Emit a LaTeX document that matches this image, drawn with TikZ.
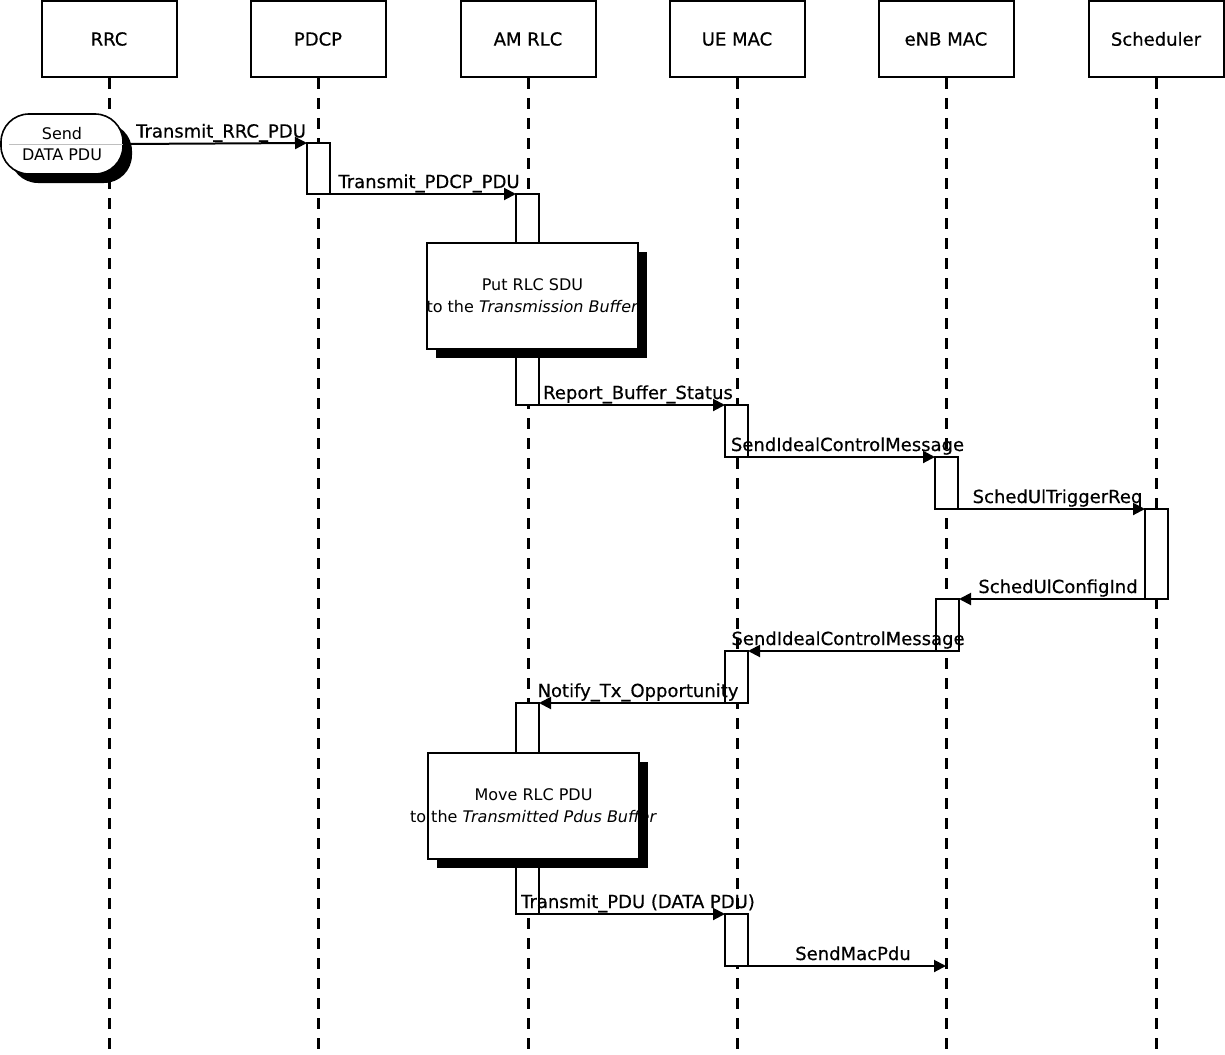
\documentclass[tikz,border=0pt]{standalone}
\usepackage{fontspec}
\setmainfont{DejaVu Sans}
\newfontfamily\lblfont{DejaVu Sans}[FakeBold=0.5]
\usetikzlibrary{arrows.meta,shadows}

\tikzset{
  head/.style={draw,line width=1pt,minimum width=67.5pt,minimum height=38pt,font=\lblfont\fontsize{9}{11}\selectfont},
  bar/.style={draw,fill=white,line width=1pt,anchor=north west,minimum width=11.5pt,inner sep=0pt,outer sep=0pt},
  blackshadow/.style={drop shadow={shadow xshift=4.5pt,shadow yshift=-4.5pt,fill=black,opacity=1}},
  note/.style={draw,fill=white,line width=0.8pt,anchor=north west,minimum width=105.5pt,minimum height=53pt,
    outer sep=0pt,inner xsep=0pt,align=center,font=\fontsize{8}{11}\selectfont,blackshadow},
  msg/.style={-{Triangle[length=6pt,width=6pt]},line width=1pt},
  lbl/.style={midway,anchor=base,yshift=3pt,xshift=3pt,font=\lblfont\fontsize{9}{11}\selectfont}
}

\begin{document}
\begin{tikzpicture}[x=0.5pt,y=-0.5pt]
\useasboundingbox (0,0) rectangle (1225,1054);

% lifelines
\foreach \x/\n/\t in {109/rrc/RRC,318/pdcp/PDCP,528/rlc/AM RLC,737/uemac/UE MAC,946/enbmac/eNB MAC,1156/sched/Scheduler}
{
	\node[head] (\n) at (\x,39) {\t};
	\draw[line width=1.5pt,dash pattern=on 5.5pt off 4.5pt] (\n.south) -- (\x,1054);
}

% start
\node[draw,fill=white,line width=0.8pt,rounded corners=14pt,minimum width=61pt,minimum height=30pt,
  outer sep=0pt,align=center,font=\fontsize{8}{10.5}\selectfont,blackshadow]
  (send) at (62,144) {Send\\DATA PDU};
\draw[black!25,line width=0.4pt] ([xshift=4pt]send.west) -- (send.east);

% activation bars
\node[bar,minimum height=25.5pt] (pdcp1) at (307,143) {};
\node[bar,minimum height=105.5pt] (rlc1) at (516,194) {};
\node[bar,minimum height=26pt] (ue1) at (725,405) {};
\node[bar,minimum height=26pt] (enb1) at (935,457) {};
\node[bar,minimum height=45pt] (sch1) at (1145,509) {};
\node[bar,minimum height=26pt] (enb2) at (936,599) {};
\node[bar,minimum height=26pt] (ue2) at (725,651) {};
\node[bar,minimum height=105.5pt] (rlc2) at (516,703) {};
\node[bar,minimum height=26pt] (ue3) at (725,914) {};
\coordinate (enbrx) at (946,966);

% notes
\node[note] (buf1) at (427,243) {\makebox[0pt]{Put RLC SDU}\\\makebox[0pt]{to the \textit{Transmission Buffer}}};
\node[note] (buf2) at (428,753) {\makebox[0pt]{Move RLC PDU}\\\makebox[0pt]{to the \textit{Transmitted Pdus Buffer}}};

% messages
\draw[msg] (send.east) -- (pdcp1.north west) node[lbl] {Transmit\_RRC\_PDU};
\draw[msg] (pdcp1.south east) -- (rlc1.north west) node[lbl] {Transmit\_PDCP\_PDU};
\draw[msg] (rlc1.south east) -- (ue1.north west) node[lbl] {Report\_Buffer\_Status};
\draw[msg] (ue1.south east) -- (enb1.north west) node[lbl] {SendIdealControlMessage};
\draw[msg] (enb1.south east) -- (sch1.north west) node[lbl] {SchedUlTriggerReq};
\draw[msg] (sch1.south west) -- (enb2.north east) node[lbl] {SchedUlConfigInd};
\draw[msg] (enb2.south west) -- (ue2.north east) node[lbl] {SendIdealControlMessage};
\draw[msg] (ue2.south west) -- (rlc2.north east) node[lbl] {Notify\_Tx\_Opportunity};
\draw[msg] (rlc2.south east) -- (ue3.north west) node[lbl] {Transmit\_PDU (DATA PDU)};
\draw[msg] (ue3.south east) -- (enbrx) node[lbl] {SendMacPdu};

\end{tikzpicture}
\end{document}
